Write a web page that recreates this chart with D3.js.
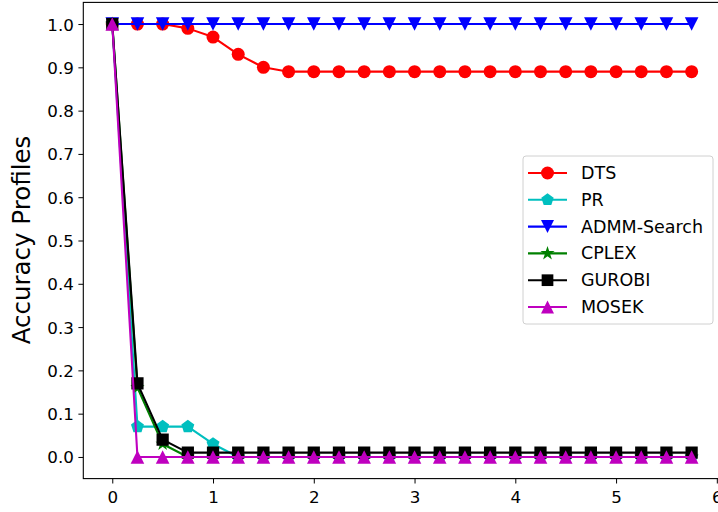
<!DOCTYPE html>
<html>
<head>
<meta charset="utf-8">
<script src="https://cdn.jsdelivr.net/npm/d3@7"></script>
<style>
  body { margin: 0; background: #fff; }
  svg { display: block; font-family: 'DejaVu Sans', sans-serif; }
</style>
</head>
<body>
<div class="canvas"></div>
<script>
const width = 718;
const height = 512;

// x positions: 0, 0.25, ... 5.75
const xs = [0, 0.25, 0.5, 0.75, 1, 1.25, 1.5, 1.75, 2, 2.25, 2.5, 2.75,
  3, 3.25, 3.5, 3.75, 4, 4.25, 4.5, 4.75, 5, 5.25, 5.5, 5.75];

const dts = [1.0, 1.0, 1.0, 0.99, 0.97, 0.93, 0.90, 0.89, 0.89, 0.89, 0.89, 0.89,
  0.89, 0.89, 0.89, 0.89, 0.89, 0.89, 0.89, 0.89, 0.89, 0.89, 0.89, 0.89];
const pr = [1.0, 0.07, 0.07, 0.07, 0.03, 0, 0, 0, 0, 0, 0, 0,
  0, 0, 0, 0, 0, 0, 0, 0, 0, 0, 0, 0];
const admm = [1, 1, 1, 1, 1, 1, 1, 1, 1, 1, 1, 1,
  1, 1, 1, 1, 1, 1, 1, 1, 1, 1, 1, 1];
const cplex = [1.0, 0.16, 0.03, 0, 0, 0, 0, 0, 0, 0, 0, 0,
  0, 0, 0, 0, 0, 0, 0, 0, 0, 0, 0, 0];
const gurobi = [1.0, 0.17, 0.04, 0.01, 0.01, 0.01, 0.01, 0.01, 0.01, 0.01, 0.01, 0.01,
  0.01, 0.01, 0.01, 0.01, 0.01, 0.01, 0.01, 0.01, 0.01, 0.01, 0.01, 0.01];
const mosek = [1.0, 0, 0, 0, 0, 0, 0, 0, 0, 0, 0, 0,
  0, 0, 0, 0, 0, 0, 0, 0, 0, 0, 0, 0];

const seriesNames = ['DTS', 'PR', 'ADMM-Search', 'CPLEX', 'GUROBI', 'MOSEK'];
const seriesValues = [dts, pr, admm, cplex, gurobi, mosek];
const colors = ['#ff0000', '#00bfbf', '#0000ff', '#008000', '#000000', '#bf00bf'];
const symbols = ['circle', 'pentagon', 'triDown', 'star', 'square', 'triUp'];

const xTicks = [0, 1, 2, 3, 4, 5, 6];
const yTicks = [0, 0.1, 0.2, 0.3, 0.4, 0.5, 0.6, 0.7, 0.8, 0.9, 1.0];

const margin = { left: 83.3, top: 2.4, right: 720.6, bottom: 478.6 };

const xScale = d3.scaleLinear().domain([-0.2875, 6.0375]).range([margin.left, margin.right]);
const yScale = d3.scaleLinear().domain([-0.05, 1.05]).range([margin.bottom, margin.top]);

const canvas = d3.select('.canvas')
  .append('svg')
  .attr('width', width)
  .attr('height', height);

// marker shapes
function markerPath(type, r) {
  if (type === 'circle') {
    return d3.symbol().type(d3.symbolCircle).size(Math.PI * r * r)();
  }
  if (type === 'square') {
    const s = r * 0.9;
    return `M${-s},${-s}H${s}V${s}H${-s}Z`;
  }
  if (type === 'triUp' || type === 'triDown') {
    const k = type === 'triUp' ? 1 : -1;
    return `M0,${-k * r}L${r},${k * r}L${-r},${k * r}Z`;
  }
  if (type === 'pentagon') {
    const pts = d3.range(5).map((i) => {
      const a = -Math.PI / 2 + i * 2 * Math.PI / 5;
      return [r * Math.cos(a), r * Math.sin(a)];
    });
    return 'M' + pts.map((p) => p.join(',')).join('L') + 'Z';
  }
  if (type === 'star') {
    const pts = d3.range(10).map((i) => {
      const rr = i % 2 === 0 ? r : r * 0.38;
      const a = -Math.PI / 2 + i * Math.PI / 5;
      return [rr * Math.cos(a), rr * Math.sin(a)];
    });
    return 'M' + pts.map((p) => p.join(',')).join('L') + 'Z';
  }
}

// Axes
const xAxis = d3.axisBottom(xScale).tickValues(xTicks).tickSize(4.9).tickPadding(4.5)
  .tickFormat(d3.format('d'));
const yAxis = d3.axisLeft(yScale).tickValues(yTicks).tickSize(4.9).tickPadding(4.5)
  .tickFormat(d3.format('.1f'));

const xG = canvas.append('g')
  .attr('transform', `translate(0,${margin.bottom})`)
  .call(xAxis);
const yG = canvas.append('g')
  .attr('transform', `translate(${margin.left},0)`)
  .call(yAxis);

[xG, yG].forEach((g) => {
  g.select('.domain').remove();
  g.selectAll('line').attr('stroke', '#000').attr('stroke-width', 1);
  g.selectAll('text').attr('fill', '#000').style('font-size', '16.7px')
    .style('font-family', "'DejaVu Sans', sans-serif");
});
xG.selectAll('text').attr('dy', '0.9em');
yG.selectAll('text').attr('dy', '0.36em');

// Lines and markers
const line = d3.line()
  .x((d) => xScale(d[0]))
  .y((d) => yScale(d[1]));

seriesValues.forEach((vals, i) => {
  const pts = xs.map((x, j) => [x, vals[j]]);
  const g = canvas.append('g').attr('class', 'series');
  g.append('path')
    .attr('d', line(pts))
    .attr('fill', 'none')
    .attr('stroke', colors[i])
    .attr('stroke-width', 2.1)
    .attr('stroke-linejoin', 'round');
  const r = symbols[i] === 'star' ? 7.5 : (symbols[i] === 'circle' ? 6.5 : 6.8);
  g.selectAll('path.mk')
    .data(pts)
    .enter()
    .append('path')
    .attr('class', 'mk')
    .attr('transform', (d) => `translate(${xScale(d[0])},${yScale(d[1])})`)
    .attr('d', markerPath(symbols[i], r))
    .attr('fill', colors[i]);
});

// Frame
canvas.append('rect')
  .attr('x', margin.left)
  .attr('y', margin.top)
  .attr('width', margin.right - margin.left)
  .attr('height', margin.bottom - margin.top)
  .attr('fill', 'none')
  .attr('stroke', '#000')
  .attr('stroke-width', 1.1);

// Y label
canvas.append('text')
  .attr('transform', `translate(30,240) rotate(-90)`)
  .attr('text-anchor', 'middle')
  .style('font-size', '24.5px')
  .text('Accuracy Profiles');

// Legend
const legend = canvas.append('g').attr('transform', 'translate(523,156)');
legend.append('rect')
  .attr('width', 190)
  .attr('height', 168)
  .attr('rx', 3)
  .attr('fill', '#fff')
  .attr('fill-opacity', 0.8)
  .attr('stroke', '#d0d0d0');

seriesNames.forEach((name, i) => {
  const y = 17 + i * 26.8;
  const row = legend.append('g').attr('transform', `translate(0,${y})`);
  row.append('line')
    .attr('x1', 5).attr('x2', 44)
    .attr('stroke', colors[i])
    .attr('stroke-width', 2.1);
  row.append('path')
    .attr('transform', 'translate(24.5,0)')
    .attr('d', markerPath(symbols[i], symbols[i] === 'star' ? 7.5 : 6.5))
    .attr('fill', colors[i]);
  row.append('text')
    .attr('x', 58)
    .attr('y', 6)
    .style('font-size', '17.5px')
    .text(name);
});
</script>
</body>
</html>
